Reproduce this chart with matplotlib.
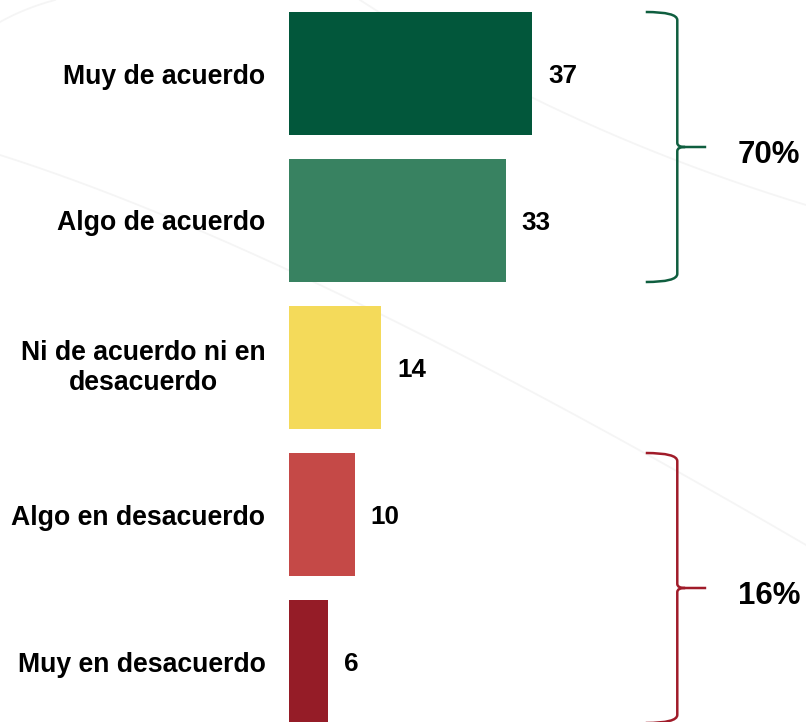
import matplotlib
matplotlib.use("Agg")
import matplotlib.pyplot as plt
from matplotlib.path import Path
from matplotlib.patches import PathPatch
import numpy as np

plt.rcParams['font.family'] = ['Liberation Sans', 'DejaVu Sans']

categories = ["Muy de acuerdo", "Algo de acuerdo", "Ni de acuerdo ni en\ndesacuerdo",
              "Algo en desacuerdo", "Muy en desacuerdo"]
values = [37, 33, 14, 10, 6]
colors = ["#02573B", "#388261", "#F4DA5A", "#C54947", "#951C27"]
groups = [("70%", 0, 1, "#0F5E3F"), ("16%", 3, 4, "#A01B29")]

W, H = 806, 722
fig = plt.figure(figsize=(W / 100, H / 100), dpi=100)
fig.patch.set_facecolor("white")

# faint decorative background curves
bg = fig.add_axes([0, 0, 1, 1], zorder=0)
bg.set_xlim(0, W); bg.set_ylim(H, 0); bg.axis("off")
t = np.linspace(0, 1, 200)
def bez(p0, p1, p2):
    p0, p1, p2 = map(np.array, (p0, p1, p2))
    return ((1 - t)[:, None] ** 2 * p0 + 2 * ((1 - t) * t)[:, None] * p1 + (t ** 2)[:, None] * p2)
for pts in [((0, 155), (300, 250), (806, 545)),
            ((360, 0), (560, 130), (806, 205)),
            ((0, 22), (25, 8), (55, 0))]:
    c = bez(*pts)
    bg.plot(c[:, 0], c[:, 1], color="#F5F5F5", lw=1.3)

bar_h = 123 / 147
x_left_px = 289
px_per_unit = 6.57
ax = fig.add_axes([x_left_px / W, 0, (W - x_left_px) / W, 1], zorder=1)
ax.patch.set_alpha(0)
ax.set_xlim(0, (W - x_left_px) / px_per_unit)
ax.set_ylim((H - 73.5) / 147, -73.5 / 147)
y = np.arange(len(values))
ax.barh(y, values, height=bar_h, color=colors, edgecolor="none")
ax.axis("off")

for yi, v, lab in zip(y, values, categories):
    ax.annotate(str(v), (v, yi), xytext=(11.5, 0), textcoords="offset points",
                ha="left", va="center_baseline", fontsize=18.7, fontweight="bold", color="black")
    multi = "\n" in lab
    ax.annotate(lab, (0, yi), xytext=(-17, 0), textcoords="offset points",
                ha="right", va="center" if multi else "center_baseline",
                multialignment="center", fontsize=19.2,
                fontweight="bold", color="black", linespacing=1.2, annotation_clip=False)

# curly braces
def brace(ax, y0, y1, color):
    xl, xv, xt = 54.3, 59.1, 63.5      # x positions in data units
    dy = 0.055                         # curl size in y data units
    dx = 1.2
    ym = (y0 + y1) / 2
    verts = [(xl, y0), (xv, y0), (xv, y0 + dy),
             (xv, ym - dy / 2),
             (xv, ym), (xv + dx, ym), (xt, ym),
             (xv + dx, ym), (xv, ym), (xv, ym + dy / 2),
             (xv, y1 - dy),
             (xv, y1), (xl, y1)]
    codes = [Path.MOVETO, Path.CURVE3, Path.CURVE3,
             Path.LINETO,
             Path.CURVE3, Path.CURVE3, Path.LINETO,
             Path.MOVETO, Path.CURVE3, Path.CURVE3,
             Path.LINETO,
             Path.CURVE3, Path.CURVE3]
    ax.add_patch(PathPatch(Path(verts, codes), facecolor="none", edgecolor=color,
                           lw=1.8, clip_on=False, capstyle="butt"))
    return ym

for label, i0, i1, col in groups:
    ytop = i0 - bar_h / 2
    ybot = i1 + bar_h / 2
    ym = brace(ax, ytop, ybot, col)
    ax.annotate(label, (68.3, ym), xytext=(0, -3), textcoords="offset points",
                ha="left", va="center_baseline", fontsize=22.5,
                fontweight="bold", color="black", annotation_clip=False)

fig.savefig("out.png", dpi=100, facecolor="white")
